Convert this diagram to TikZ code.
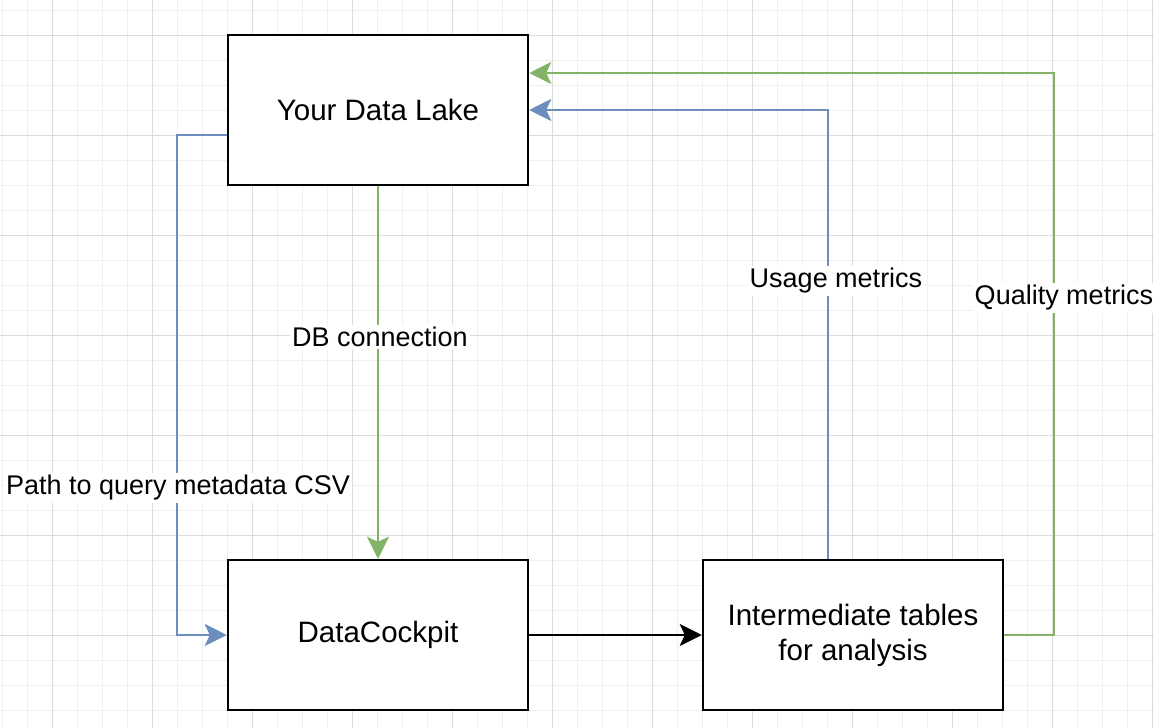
\documentclass[tikz,border=0pt]{standalone}
\usepackage{fontspec}
\setmainfont{Liberation Sans}
\usetikzlibrary{arrows.meta}
\definecolor{dblue}{HTML}{6C8EBF}
\definecolor{dgreen}{HTML}{82B366}
\definecolor{gridminor}{HTML}{F0F0F0}
\definecolor{gridmajor}{HTML}{DCDCDC}
\tikzset{
  box/.style={draw=black, line width=2.5pt, fill=white, minimum width=300pt, minimum height=150pt, align=center, font=\fontsize{29.5}{35}\selectfont, inner sep=0pt},
  conn/.style={line width=2pt, -{Stealth[length=22pt, width=22pt, inset=5pt]}},
  lbl/.style={fill=white, inner sep=2pt, font=\fontsize{27}{32}\selectfont},
}
\begin{document}
\begin{tikzpicture}[x=1pt,y=-1pt]
\useasboundingbox (0,0) rectangle (1154,728);
\fill[white] (0,0) rectangle (1154,728);
% grid
\foreach \x in {2,27,...,1152} \draw[gridminor, line width=1pt] (\x,0) -- (\x,728);
\foreach \y in {10,35,...,728} \draw[gridminor, line width=1pt] (0,\y) -- (1154,\y);
\foreach \x in {52,152,...,1152} \draw[gridmajor, line width=1pt] (\x,0) -- (\x,728);
\foreach \y in {35,135,...,728} \draw[gridmajor, line width=1pt] (0,\y) -- (1154,\y);
% boxes
\node[box] (lake) at (378,110) {Your Data Lake};
\node[box] (cockpit) at (378,635) {DataCockpit};
\node[box] (inter) at (853,635) {Intermediate tables\\for analysis};
% connectors
\draw[conn, dblue] ([yshift=-25pt]lake.west) -- ++(-50,0) |- (cockpit.west);
\draw[conn, dgreen] (lake.south) -- (cockpit.north);
\draw[conn, black] (cockpit.east) -- (inter.west);
\draw[conn, dblue] ([xshift=-25pt]inter.north) |- (lake.east);
\draw[conn, dgreen] (inter.east) -- ++(50,0) |- ([yshift=37pt]lake.east);
% labels
\node[lbl] (l1) at (178,488) {Path to query metadata CSV};
\node[lbl] (l2) at (380,337) {DB connection};
\node[lbl] (l3) at (836,281) {Usage metrics};
\node[lbl] (l4) at (1064,298) {Quality metrics};
\end{tikzpicture}
\end{document}
